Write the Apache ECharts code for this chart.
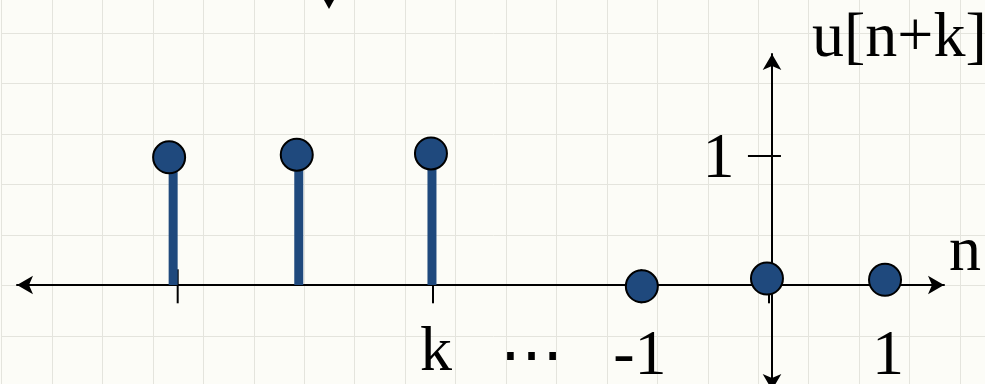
<!DOCTYPE html>
<html>
<head>
<meta charset="utf-8">
<script src="https://cdn.jsdelivr.net/npm/echarts@6/dist/echarts.min.js"></script>
<style>
html, body { margin: 0; padding: 0; background: #fcfcf7; }
#main { width: 985px; height: 384px; }
</style>
</head>
<body>
<div id="main"></div>
<script>
// x values are in grid cells measured from the vertical axis, y in signal units
var stemX = [-11.87, -9.38, -6.74];
var stemY = [1, 1, 1];
var headX = [-11.95, -9.42, -6.76];
var headY = [0.99, 1.01, 1.02];
var zeroX = [-2.58, -0.10, 2.24];
var zeroY = [-0.01, 0.05, 0.04];
var tickX = [-11.78, -6.72, -2.59, -0.06];
var labelX = [-6.66, -4.76, -2.62, 2.30];
var labelY = [-0.53, -0.58, -0.56, -0.56];
var labelText = ['k', '{dots|⋯}', '-1', '1'];
var yTickY = [1];
var yLabelX = [-1.06];
var yLabelText = ['1'];

var blue = '#1f497d';
var serif = 'Liberation Serif';

var myChart = echarts.init(document.getElementById('main'));
myChart.setOption({
    animation: false,
    grid: [
        // background paper grid
        {left: 1.5, top: -17.4, width: 1009, height: 454.05, outerBoundsMode: 'none', containLabel: false},
        {left: 17, right: 41, top: 54, bottom: -6, outerBoundsMode: 'none', containLabel: false}
    ],
    xAxis: [
        {gridIndex: 0, type: 'value', min: 0, max: 20, interval: 1,
            axisLine: {show: false}, axisTick: {show: false}, axisLabel: {show: false},
            splitLine: {lineStyle: {color: '#e4e4dd', width: 1}}},
        {gridIndex: 1, type: 'value', min: -14.965, max: 3.409, z: 1,
            name: 'n', nameLocation: 'end', nameGap: 5,
            nameTextStyle: {fontFamily: serif, fontSize: 64, color: '#000',
                verticalAlign: 'bottom', lineHeight: 64},
            axisLine: {onZero: true, symbol: ['arrow', 'arrow'], symbolSize: [14, 16],
                lineStyle: {color: '#000', width: 2}},
            axisTick: {show: false},
            axisLabel: {show: false},
            splitLine: {show: false}}
    ],
    yAxis: [
        {gridIndex: 0, type: 'value', min: 0, max: 9, interval: 1,
            axisLine: {show: false}, axisTick: {show: false}, axisLabel: {show: false},
            splitLine: {lineStyle: {color: '#e4e4dd', width: 1}}},
        {gridIndex: 1, type: 'value', min: -0.814, max: 1.791, z: 1,
            name: 'u[n+k]', nameLocation: 'end', nameGap: 15,
            nameTextStyle: {fontFamily: serif, fontSize: 64, color: '#000',
                align: 'left', verticalAlign: 'middle', padding: [0, 0, 0, 40]},
            axisLine: {onZero: true, symbol: ['arrow', 'arrow'], symbolSize: [14, 16],
                lineStyle: {color: '#000', width: 2}},
            axisTick: {show: false},
            axisLabel: {show: false},
            splitLine: {show: false}}
    ],
    series: [
        {   // tick marks across the n axis
            type: 'scatter', xAxisIndex: 1, yAxisIndex: 1, z: 2, silent: true,
            symbol: 'rect', symbolSize: [2, 34],
            itemStyle: {color: '#000', opacity: 1},
            data: tickX.map(function (x) { return [x, -0.01]; })
        },
        {   // tick mark across the vertical axis
            type: 'scatter', xAxisIndex: 1, yAxisIndex: 1, z: 2, silent: true,
            symbol: 'rect', symbolSize: [33, 2],
            itemStyle: {color: '#000', opacity: 1},
            data: yTickY.map(function (y) { return [-0.15, y]; })
        },
        {
            type: 'bar', xAxisIndex: 1, yAxisIndex: 1, z: 3,
            barWidth: 9,
            itemStyle: {color: blue},
            data: stemX.map(function (x, i) { return [x, stemY[i]]; })
        },
        {
            type: 'scatter', xAxisIndex: 1, yAxisIndex: 1, z: 4,
            symbol: 'circle', symbolSize: 32,
            itemStyle: {color: blue, borderColor: '#000', borderWidth: 2, opacity: 1},
            data: headX.map(function (x, i) { return [x, headY[i]]; })
                .concat(zeroX.map(function (x, i) { return [x, zeroY[i]]; }))
        },
        {   // tick labels of both axes
            type: 'scatter', xAxisIndex: 1, yAxisIndex: 1, z: 5, silent: true,
            clip: false, symbolSize: 0,
            itemStyle: {opacity: 1},
            label: {
                show: true, position: 'inside',
                fontFamily: serif, fontSize: 64, color: '#000', textBorderWidth: 0,
                formatter: function (p) { return p.data.name; },
                rich: {dots: {fontFamily: 'DejaVu Sans', fontSize: 64, color: '#000'}}
            },
            data: labelX.map(function (x, i) { return {name: labelText[i], value: [x, labelY[i]]}; })
                .concat(yLabelX.map(function (x, i) { return {name: yLabelText[i], value: [x, yTickY[i] - 0.031]}; }))
        }
    ],
    graphic: [
        // tip of an arrow coming from above the picture
        {type: 'polygon', shape: {points: [[324, 0], [334, 0], [329, 9]]}, style: {fill: '#000'}}
    ]
});
</script>
</body>
</html>
